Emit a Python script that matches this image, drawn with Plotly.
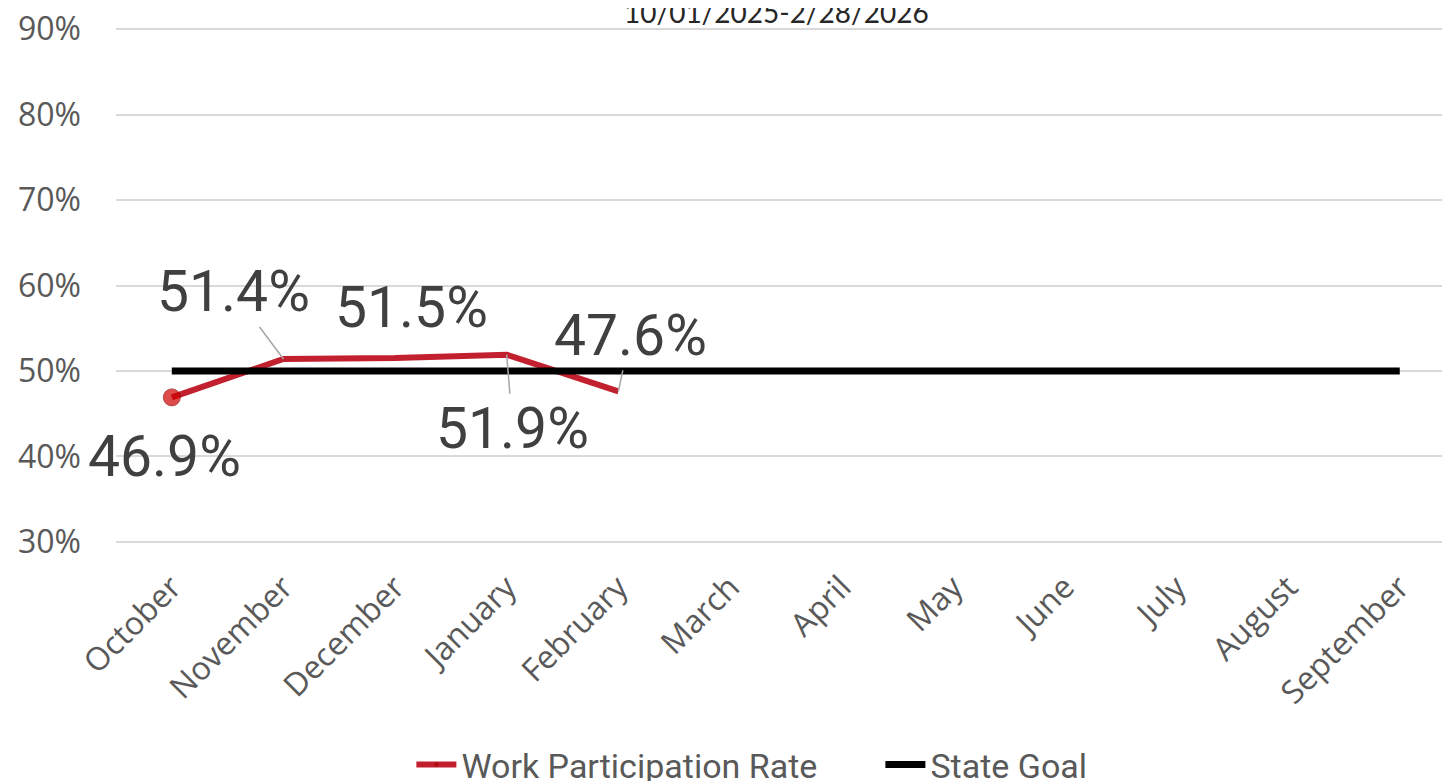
import plotly.graph_objects as go

months = ["October", "November", "December", "January", "February", "March",
          "April", "May", "June", "July", "August", "September"]
wpr_months = months[:5]
wpr_values = [46.9, 51.4, 51.5, 51.9, 47.6]
wpr_labels = ["46.9%", "51.4%", "51.5%", "51.9%", "47.6%"]
goal_values = [50] * 12
y_ticks = [30, 40, 50, 60, 70, 80, 90]
y_tick_text = ["30%", "40%", "50%", "60%", "70%", "80%", "90%"]
title_text = "10/01/2025-2/28/2026"

# label placement (pixel offsets from point): (dx, dy, leader)
label_offsets = [(-7, 59, False), (-50, -67, True), (16, -51, False), (6, 74, True), (12, -56, True)]

fig = go.Figure()
fig.add_trace(go.Scatter(
    x=wpr_months, y=wpr_values, mode="lines+markers", name="Work Participation Rate",
    line=dict(color="#C3202F", width=6),
    marker=dict(size=[17, 0, 0, 0, 0], color="#D00000", line=dict(color="#8A0000", width=1)),
))
fig.add_trace(go.Scatter(
    x=months, y=goal_values, mode="lines", name="State Goal",
    line=dict(color="#000000", width=7),
))

for m, v, lab, (dx, dy, leader) in zip(wpr_months, wpr_values, wpr_labels, label_offsets):
    if leader:
        fig.add_annotation(x=m, y=v, text=lab, showarrow=True, arrowhead=0, arrowwidth=1.5,
                           arrowcolor="#A6A6A6", ax=dx, ay=dy, standoff=0,
                           font=dict(family="Roboto", size=57, color="#404040"))
    else:
        fig.add_annotation(x=m, y=v, text=lab, showarrow=False, xshift=dx, yshift=-dy,
                           font=dict(family="Roboto", size=57, color="#404040"))

fig.add_annotation(xref="paper", yref="paper", x=0.495, y=1, yanchor="bottom", yshift=-3,
                   text=title_text, showarrow=False,
                   font=dict(family="Lato", size=28, color="#262626"))

fig.update_layout(
    width=1442, height=773,
    margin=dict(l=108, r=0, t=20, b=238, autoexpand=False),
    plot_bgcolor="white", paper_bgcolor="white",
    showlegend=True,
    legend=dict(orientation="h", x=0.573, y=-0.431,
                xanchor="center", yanchor="middle",
                font=dict(family="Roboto", size=34, color="#595959"),
                entrywidth=414, itemwidth=40),
    xaxis=dict(type="category", categoryorder="array", categoryarray=months,
               range=[-0.5, 11.45], tickangle=-45, showgrid=False, zeroline=False,
               showline=False, ticks="", ticklabelstandoff=18, automargin=False,
               ticklabeloverflow="allow",
               tickfont=dict(family="Open Sans", size=32, color="#595959")),
    yaxis=dict(range=[29.85, 90.15], tickvals=y_ticks, ticktext=y_tick_text,
               showgrid=True, gridcolor="#D9D9D9", gridwidth=2, zeroline=False,
               showline=False, ticks="", ticklabelstandoff=34, automargin=False,
               ticklabeloverflow="allow",
               tickfont=dict(family="Open Sans", size=32, color="#595959")),
)

fig.write_html("out.html")
